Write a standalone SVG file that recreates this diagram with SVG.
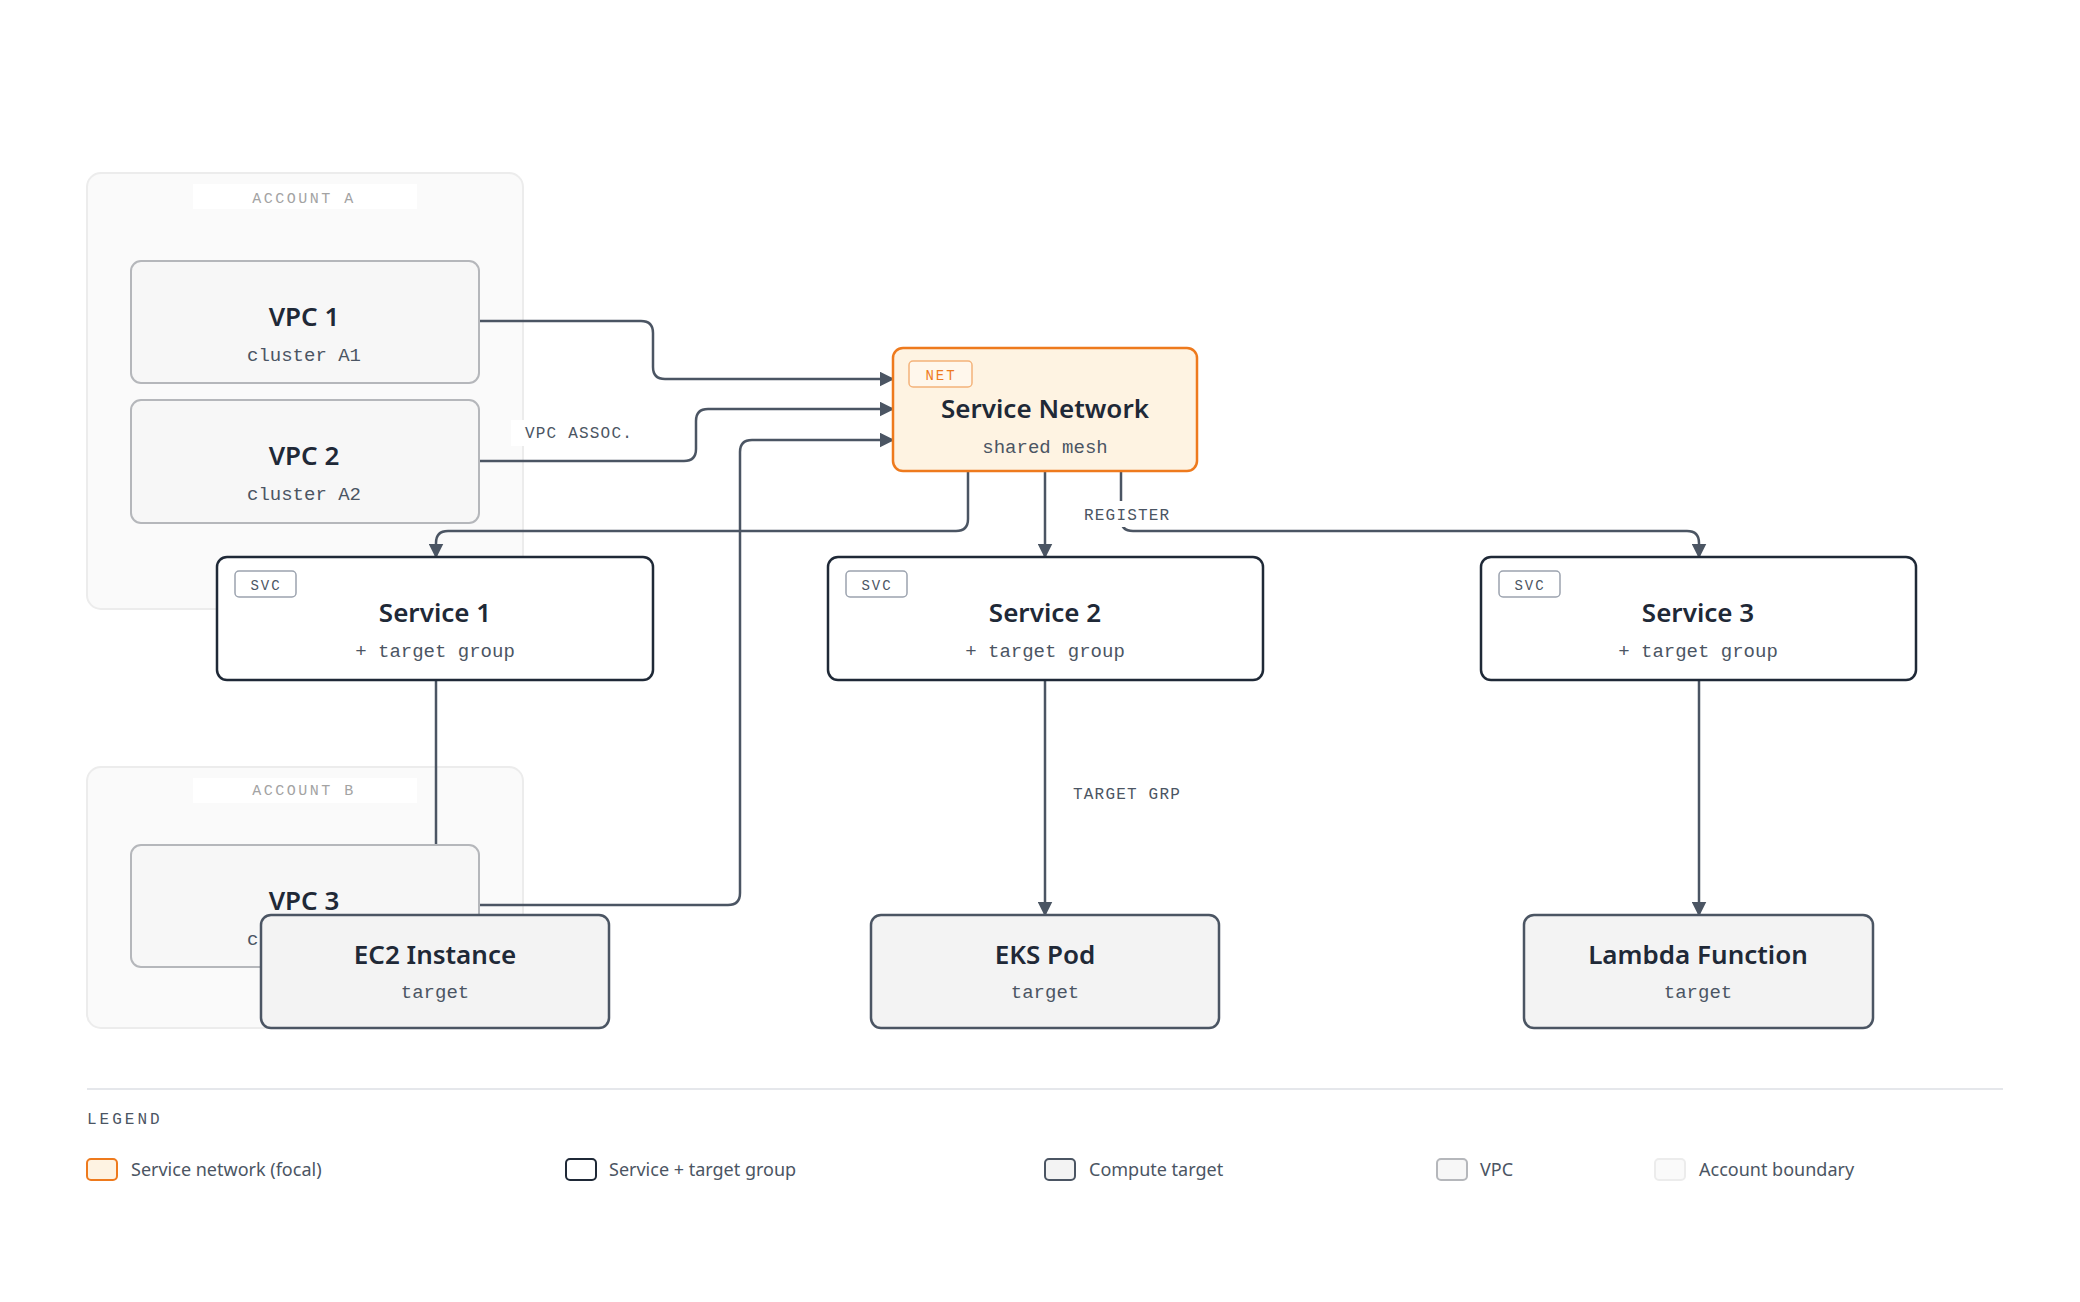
<svg xmlns="http://www.w3.org/2000/svg" width="2080" height="1302" viewBox="0 0 2080 1302">
<style>
.t{font-family:"Noto Sans",sans-serif;font-weight:600;font-size:26px;fill:#1f2937;text-anchor:middle}
.s{font-family:"Liberation Mono",monospace;font-size:19px;fill:#4b5563;text-anchor:middle}
.lab{font-family:"Liberation Mono",monospace;font-size:16px;fill:#4b5563;letter-spacing:1.2px}
.acc{font-family:"Liberation Mono",monospace;font-size:15px;fill:#a3a3a3;letter-spacing:2.5px;text-anchor:middle}
.badge{font-family:"Liberation Mono",monospace;font-size:14px;letter-spacing:2px;text-anchor:middle}
.lg{font-family:"Noto Sans",sans-serif;font-size:18px;fill:#4b5563}
.e{fill:none;stroke:#4b5563;stroke-width:2.5}
.vpc{fill:#f7f7f7;stroke:#b5b7bb;stroke-width:2}
.svc{fill:#fff;stroke:#1f2937;stroke-width:2.5}
.cmp{fill:#f3f3f3;stroke:#4b5563;stroke-width:2.5}
.accb{fill:#fafafa;stroke:#ececec;stroke-width:2}
</style>
<defs><marker id="a" viewBox="0 0 10 10" refX="9" refY="5" markerWidth="6" markerHeight="6" markerUnits="strokeWidth" orient="auto"><path d="M0,0L10,5L0,10z" fill="#4b5563"/></marker></defs>
<rect width="2080" height="1302" fill="#fff"/>
<g id="accountA"><rect class="accb" x="87" y="173" width="436" height="436" rx="14"/><rect x="193" y="184" width="224" height="25" fill="#fff"/><text class="acc" x="304" y="203">ACCOUNT A</text></g>
<g id="accountB"><rect class="accb" x="87" y="767" width="436" height="261" rx="14"/><rect x="193" y="778" width="224" height="25" fill="#fff"/><text class="acc" x="304" y="795">ACCOUNT B</text></g>
<g id="connectors">
<path class="e" d="M479,321H641Q653,321 653,333V367Q653,379 665,379H893" marker-end="url(#a)"/>
<path class="e" d="M479,461H684Q696,461 696,449V421Q696,409 708,409H893" marker-end="url(#a)"/>
<path class="e" d="M479,905H728Q740,905 740,893V452Q740,440 752,440H893" marker-end="url(#a)"/>
<path class="e" d="M968,471V519Q968,531 956,531H448Q436,531 436,543V557" marker-end="url(#a)"/>
<path class="e" d="M1045,471V557" marker-end="url(#a)"/>
<path class="e" d="M1121,471V519Q1121,531 1133,531H1687Q1699,531 1699,543V557" marker-end="url(#a)"/>
<path class="e" d="M436,680V915" stroke-width="2"/>
<path class="e" d="M1045,680V915" stroke-width="2" marker-end="url(#a)"/>
<path class="e" d="M1699,680V915" stroke-width="2" marker-end="url(#a)"/>
<rect x="511" y="420" width="124" height="26" fill="#fff"/><text class="lab" x="525" y="438">VPC ASSOC.</text>
<rect x="1080" y="501" width="96" height="26" fill="#fff"/><text class="lab" x="1084" y="520">REGISTER</text>
<rect x="1068" y="780" width="116" height="26" fill="#fff"/><text class="lab" x="1073" y="799">TARGET GRP</text>
</g>
<g id="vpc1"><rect class="vpc" x="131" y="261" width="348" height="122" rx="10"/><text class="t" x="304" y="326">VPC 1</text><text class="s" x="304" y="361">cluster A1</text></g>
<g id="vpc2"><rect class="vpc" x="131" y="400" width="348" height="123" rx="10"/><text class="t" x="304" y="465">VPC 2</text><text class="s" x="304" y="500">cluster A2</text></g>
<g id="vpc3"><rect class="vpc" x="131" y="845" width="348" height="122" rx="10"/><text class="t" x="304" y="910">VPC 3</text><text class="s" x="304" y="945">cluster B1</text></g>
<g id="net"><rect x="893" y="348" width="304" height="123" rx="10" fill="#fef3e2" stroke="#ee7a1d" stroke-width="2.5"/><rect x="909" y="361" width="63" height="26" rx="4" fill="#fff7ec" stroke="#f4b37a" stroke-width="1.5"/><text class="badge" x="941" y="380" fill="#ee7a1d">NET</text><text class="t" x="1045" y="418">Service Network</text><text class="s" x="1045" y="453">shared mesh</text></g>
<g id="svc1"><rect class="svc" x="217" y="557" width="436" height="123" rx="10"/><rect x="235" y="571" width="61" height="26" rx="4" fill="#fff" stroke="#9ca3af" stroke-width="1.5"/><text class="badge" x="266" y="590" fill="#4b5563">SVC</text><text class="t" x="435" y="622">Service 1</text><text class="s" x="435" y="657">+ target group</text></g>
<g id="svc2"><rect class="svc" x="828" y="557" width="435" height="123" rx="10"/><rect x="846" y="571" width="61" height="26" rx="4" fill="#fff" stroke="#9ca3af" stroke-width="1.5"/><text class="badge" x="877" y="590" fill="#4b5563">SVC</text><text class="t" x="1045" y="622">Service 2</text><text class="s" x="1045" y="657">+ target group</text></g>
<g id="svc3"><rect class="svc" x="1481" y="557" width="435" height="123" rx="10"/><rect x="1499" y="571" width="61" height="26" rx="4" fill="#fff" stroke="#9ca3af" stroke-width="1.5"/><text class="badge" x="1530" y="590" fill="#4b5563">SVC</text><text class="t" x="1698" y="622">Service 3</text><text class="s" x="1698" y="657">+ target group</text></g>
<g id="ec2"><rect class="cmp" x="261" y="915" width="348" height="113" rx="10"/><text class="t" x="435" y="964">EC2 Instance</text><text class="s" x="435" y="998">target</text></g>
<g id="eks"><rect class="cmp" x="871" y="915" width="348" height="113" rx="10"/><text class="t" x="1045" y="964">EKS Pod</text><text class="s" x="1045" y="998">target</text></g>
<g id="lambda"><rect class="cmp" x="1524" y="915" width="349" height="113" rx="10"/><text class="t" x="1698" y="964">Lambda Function</text><text class="s" x="1698" y="998">target</text></g>
<g id="legend">
<line x1="87" y1="1089" x2="2003" y2="1089" stroke="#e5e7eb" stroke-width="2"/>
<text x="87" y="1124" style="font-family:'Liberation Mono',monospace;font-size:16px;fill:#4b5563;letter-spacing:3px">LEGEND</text>
<rect x="87" y="1159" width="30" height="21" rx="4" fill="#fef3e2" stroke="#ee7a1d" stroke-width="2"/><text class="lg" x="131" y="1176">Service network (focal)</text>
<rect x="566" y="1159" width="30" height="21" rx="4" fill="#fff" stroke="#1f2937" stroke-width="2"/><text class="lg" x="609" y="1176">Service + target group</text>
<rect x="1045" y="1159" width="30" height="21" rx="4" fill="#f3f3f3" stroke="#4b5563" stroke-width="2"/><text class="lg" x="1089" y="1176">Compute target</text>
<rect x="1437" y="1159" width="30" height="21" rx="4" fill="#f7f7f7" stroke="#b5b7bb" stroke-width="2"/><text class="lg" x="1480" y="1176">VPC</text>
<rect x="1655" y="1159" width="30" height="21" rx="4" fill="#fafafa" stroke="#ececec" stroke-width="2"/><text class="lg" x="1699" y="1176">Account boundary</text>
</g>
</svg>
